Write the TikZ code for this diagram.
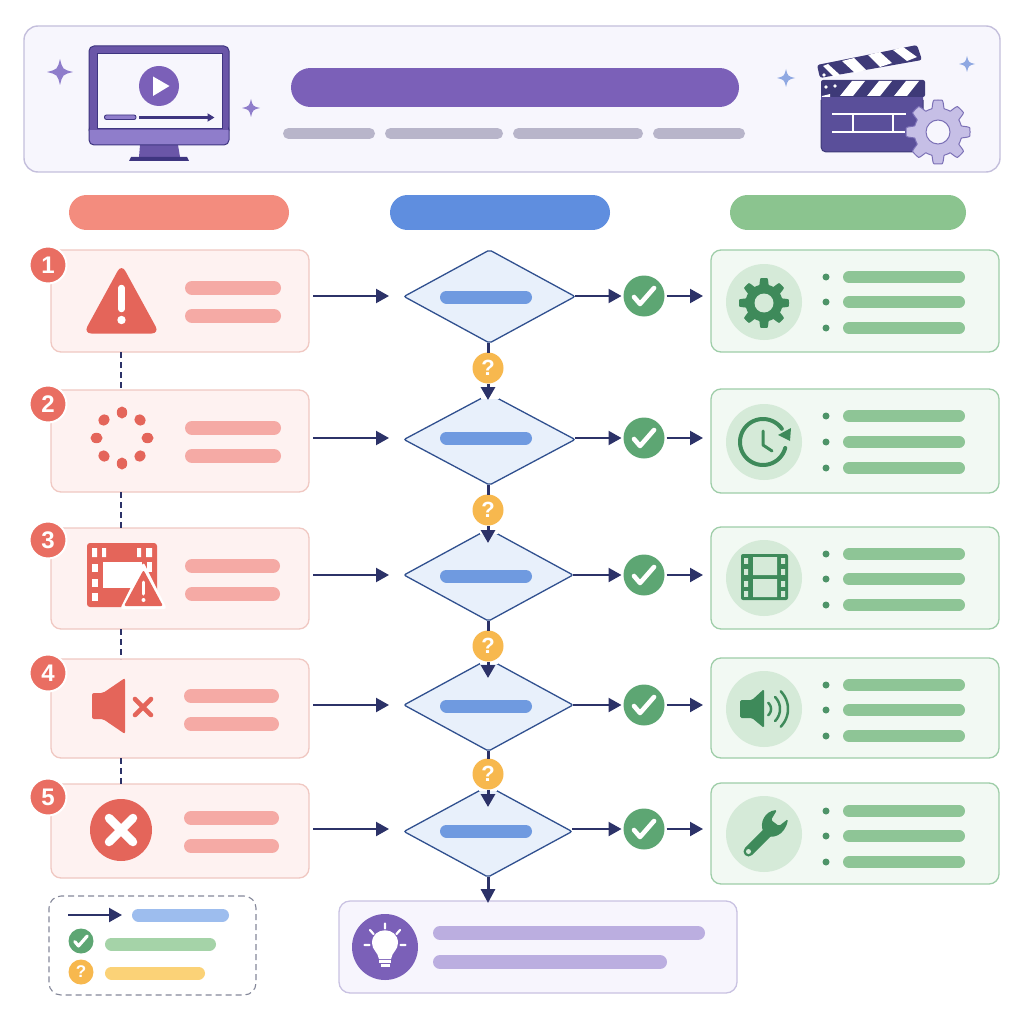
\documentclass[tikz,border=0pt]{standalone}
\usepackage{fontspec}
\setmainfont{Liberation Sans}
\usetikzlibrary{arrows.meta,shapes.geometric}
\definecolor{navy}{HTML}{2C3268}
\definecolor{hdrfill}{HTML}{F7F6FD}
\definecolor{hdrline}{HTML}{C4BFDC}
\definecolor{purple}{HTML}{7B60B8}
\definecolor{purplelt}{HTML}{8F7DCB}
\definecolor{purpledk}{HTML}{3E3580}
\definecolor{frameclr}{HTML}{6A56A8}
\definecolor{greyp}{HTML}{B8B5CA}
\definecolor{clapbody}{HTML}{5A4F9A}
\definecolor{clapdark}{HTML}{3E3A78}
\definecolor{gearfill}{HTML}{C6BFE6}
\definecolor{gearline}{HTML}{7B70B6}
\definecolor{sparkb}{HTML}{8FA8E2}
\definecolor{redhead}{HTML}{F38C7E}
\definecolor{bluehead}{HTML}{5F8EDF}
\definecolor{greenhead}{HTML}{8BC48F}
\definecolor{redfill}{HTML}{FEF2F1}
\definecolor{redline}{HTML}{F0C8C2}
\definecolor{redicon}{HTML}{E4655A}
\definecolor{redbar}{HTML}{F5AAA5}
\definecolor{badge}{HTML}{E96E62}
\definecolor{diafill}{HTML}{E8F0FB}
\definecolor{dialine}{HTML}{30508F}
\definecolor{diabar}{HTML}{6F9AE0}
\definecolor{okclr}{HTML}{5DA673}
\definecolor{qclr}{HTML}{F7B84E}
\definecolor{greenfill}{HTML}{F2F9F3}
\definecolor{greenline}{HTML}{9ECDA8}
\definecolor{greencirc}{HTML}{D5EAD8}
\definecolor{greenicon}{HTML}{3E8A5A}
\definecolor{greendot}{HTML}{4E9468}
\definecolor{greenbar}{HTML}{8EC596}
\definecolor{lightpurple}{HTML}{BBAEE0}
\definecolor{tipfill}{HTML}{F7F5FD}
\definecolor{tipline}{HTML}{C9C2E2}
\definecolor{legline}{HTML}{85889A}
\definecolor{legblue}{HTML}{9DBDEE}
\definecolor{leggreen}{HTML}{A5D3A8}
\definecolor{legyellow}{HTML}{FBD277}

\tikzset{
  boxbase/.style={rectangle,inner sep=0pt,outer sep=0pt},
  redcard/.style={boxbase,rounded corners=10pt,fill=redfill,draw=redline,line width=1.3pt},
  greencard/.style={boxbase,rounded corners=10pt,fill=greenfill,draw=greenline,line width=1.3pt},
  tipcard/.style={boxbase,rounded corners=11pt,fill=tipfill,draw=tipline,line width=1.3pt},
  hdrcard/.style={boxbase,rounded corners=14pt,fill=hdrfill,draw=hdrline,line width=1.4pt},
  legcard/.style={boxbase,rounded corners=12pt,fill=white,draw=legline,line width=1.1pt,dash pattern=on 6pt off 4pt},
  dia/.style={diamond,aspect=1.84,inner sep=0pt,outer sep=0pt,fill=diafill,draw=dialine,line width=1.3pt,rounded corners=2pt},
  numbadge/.style={circle,inner sep=0pt,outer sep=0pt,minimum size=37pt,fill=badge,draw=white,line width=2pt,text=white,font=\fontsize{24}{24}\selectfont\bfseries},
  okdot/.style={circle,inner sep=0pt,outer sep=0pt,fill=okclr},
  qdot/.style={circle,inner sep=0pt,outer sep=0pt,fill=qclr,text=white,font=\bfseries},
  conn/.style={draw=navy,line width=2.2pt,-{Triangle[length=13pt,width=14pt]}},
  stub/.style={draw=navy,line width=3pt},
  dashconn/.style={draw=navy,line width=1.6pt,dash pattern=on 6pt off 4pt},
  tick/.style={draw=white,line width=#1,line cap=round,line join=round},
}
\newcommand{\pillbar}[5]{\draw[line width=#4pt,line cap=round,#5] ({#1+#4/2},#3) -- ({#2-#4/2},#3);}
\newcommand{\sparkle}[4]{\fill[#4] (#1,{#2-#3}) .. controls ({#1+.2*#3},{#2-.2*#3}) .. ({#1+#3},#2) .. controls ({#1+.2*#3},{#2+.2*#3}) .. (#1,{#2+#3}) .. controls ({#1-.2*#3},{#2+.2*#3}) .. ({#1-#3},#2) .. controls ({#1-.2*#3},{#2-.2*#3}) .. cycle;}
\newcommand{\gearpath}[6]{\path[#6] plot[domain=0:360,samples=241,variable=\t] ({#1+((#3+#4)/2+(#3-#4)/2*max(-1,min(1,2.4*cos(#5*\t))))*cos(\t)},{#2+((#3+#4)/2+(#3-#4)/2*max(-1,min(1,2.4*cos(#5*\t))))*sin(\t)}) -- cycle;}
\newcommand{\checkmk}[4]{\draw[tick=#4] ({#1-#3*10},{#2+#3*1}) -- ({#1-#3*4},{#2+#3*8}) -- ({#1+#3*10},{#2-#3*8});}

\begin{document}
\begin{tikzpicture}[x=1pt,y=-1pt]
\useasboundingbox (0,0) rectangle (1024,1024);
\fill[white] (0,0) rectangle (1024,1024);

% header
\node[hdrcard,minimum width=976pt,minimum height=146pt] (hdr) at (512,99) {};
\pillbar{291}{739}{87.5}{39}{purple}
\pillbar{283}{375}{133.5}{11}{greyp}
\pillbar{385}{503}{133.5}{11}{greyp}
\pillbar{513}{643}{133.5}{11}{greyp}
\pillbar{653}{745}{133.5}{11}{greyp}
\sparkle{60}{72}{13}{purplelt}
\sparkle{251}{108}{9}{purplelt}
\sparkle{786}{78}{9}{sparkb}
\sparkle{967}{64}{8}{sparkb}

% monitor
\fill[frameclr] (140,145) -- (178,145) -- (180,157) -- (139,157) -- cycle;
\fill[purpledk] (129,161) -- (131,157) -- (187,157) -- (189,161) -- cycle;
\draw[fill=frameclr,draw=purpledk,line width=1pt,rounded corners=5pt] (89,46) rectangle (229,135);
\draw[fill=purplelt,draw=purpledk,line width=1pt,rounded corners=5pt] (89,125) rectangle (229,145);
\fill[frameclr] (90,122) rectangle (228,130);
\draw[fill=hdrfill,draw=purpledk,line width=1pt] (97,54) rectangle (222,129);
\fill[purple] (159,86) circle (20);
\fill[white] (153,76.5) -- (169.5,86) -- (153,96) -- cycle;
\draw[fill=purplelt,draw=purpledk,line width=.9pt,rounded corners=2pt] (104.5,115) rectangle (136,119.5);
\draw[draw=purpledk,line width=2.2pt,-{Triangle[length=7pt,width=8pt]}] (139,117.5) -- (214.5,117.5);

% clapper
\fill[clapbody,rounded corners=5pt] (821,92) rectangle (923,152);
\draw[clapdark,line width=1pt,rounded corners=5pt] (821,100) -- (821,152) -- (923,152) -- (923,100);
\fill[clapdark,rounded corners=2pt] (821,80) rectangle (925,97);
\foreach \s in {840,867,894}{\fill[white] (\s,96) -- ({\s+13},96) -- ({\s+25},81) -- ({\s+12},81) -- cycle;}
\fill[white] (826,87) circle (1.8) (835,86) circle (1.8);
\fill[white] (822,96) -- (830,94) -- (830,97) -- (822,97) -- cycle;
\fill[clapdark,rounded corners=2.5pt] (817,65) -- (917,45) -- (922,60) -- (820,78) -- cycle;
\fill[white] (823,66) -- (828,64) -- (840,75) -- (834,77) -- cycle;
\fill[white] (842,61) -- (854,58) -- (866,70) -- (855,73) -- cycle;
\fill[white] (868,55) -- (880,52) -- (892,63) -- (880,67) -- cycle;
\fill[white] (893,50) -- (903,47) -- (917,57) -- (907,61) -- cycle;
\fill[white] (824,75) circle (1.8);
\draw[white,line width=1.4pt] (832,114) -- (906,114) (832,132) -- (905,132) (853,114) -- (853,132) (893,114) -- (893,132);
\gearpath{938}{132}{32}{24}{8}{fill=gearfill,draw=gearline,line width=1pt,line join=round}
\draw[fill=hdrfill,draw=gearline,line width=1pt] (938,132) circle (12);

% column headers
\pillbar{69}{289}{212.5}{35}{redhead}
\pillbar{390}{610}{212.5}{35}{bluehead}
\pillbar{730}{966}{212.5}{35}{greenhead}

% red cards
\node[redcard,minimum width=258pt,minimum height=102pt] (r1) at (180,301) {};
\node[redcard,minimum width=258pt,minimum height=102pt] (r2) at (180,441) {};
\node[redcard,minimum width=258pt,minimum height=101pt] (r3) at (180,578.5) {};
\node[redcard,minimum width=258pt,minimum height=99pt] (r4) at (180,708.5) {};
\node[redcard,minimum width=258pt,minimum height=94pt] (r5) at (180,831) {};
\foreach \a/\b/\cy in {185/281/288,185/281/316,185/281/428,185/281/456,185/280/566,185/280/594,184/279/696,184/279/724,184/279/818,184/279/846}{\pillbar{\a}{\b}{\cy}{14}{redbar}}
\coordinate (ga) at (121,352); \coordinate (gb) at (121,390);
\draw[dashconn] (ga) -- (gb);
\coordinate (gc) at (121,492); \coordinate (gd) at (121,528);
\draw[dashconn] (gc) -- (gd);
\coordinate (ge) at (121,629); \coordinate (gf) at (121,659);
\draw[dashconn] (ge) -- (gf);
\coordinate (gg) at (121,758); \coordinate (gh) at (121,784);
\draw[dashconn] (gg) -- (gh);

\node[numbadge] (n1) at (48,265) {1};
\node[numbadge] (n2) at (48,404) {2};
\node[numbadge] (n3) at (48,540) {3};
\node[numbadge] (n4) at (48,673) {4};
\node[numbadge] (n5) at (48,797) {5};

% red icons
\fill[redicon,rounded corners=8pt] (121.5,264) -- (159.5,333.5) -- (83.5,333.5) -- cycle;
\draw[white,line width=6.5pt,line cap=round] (121.5,288) -- (121.5,309);
\fill[white] (121.5,320) circle (4.2);
\foreach \ang in {0,45,90,135,180,225,270,315}{\fill[redicon,shift={({122+25.5*cos(\ang)},{438+25.5*sin(\ang)})},rotate=\ang] (0,0) ellipse (6 and 5.2);}
\fill[redicon,rounded corners=3pt] (87,543) rectangle (157,607);
\fill[white] (103,562) rectangle (142,588);
\foreach \yy in {568,583,597}{\fill[white] (92,{\yy-4}) rectangle (98,{\yy+4});}
\fill[white] (92,548) rectangle (97,557) (102,548) rectangle (106,557) (137,548) rectangle (141,557) (146,548) rectangle (152,557);
\fill[white] (147,562) rectangle (152,572);
\fill[white,rounded corners=3pt] (143.5,562) -- (167,609) -- (120,609) -- cycle;
\fill[redicon,rounded corners=2pt] (143.5,570) -- (163,606) -- (124,606) -- cycle;
\draw[white,line width=3pt,line cap=round] (143.5,582) -- (143.5,594);
\fill[white] (143.5,600) circle (2);
\fill[redicon,rounded corners=2pt] (92,693) -- (103,693) -- (125,678) -- (125,734) -- (103,719) -- (92,719) -- cycle;
\draw[redicon,line width=4.6pt,line cap=round] (135,699) -- (151,715) (151,699) -- (135,715);
\fill[redicon] (121,830) circle (31);
\draw[white,line width=8.5pt,line cap=round] (109,818) -- (133,842) (133,818) -- (109,842);

% diamonds
\node[dia,minimum width=171pt,minimum height=93pt] (d1) at (489.5,296.5) {};
\node[dia,minimum width=171pt,minimum height=91pt] (d2) at (489.5,439.5) {};
\node[dia,minimum width=169pt,minimum height=92pt] (d3) at (488.5,575) {};
\node[dia,minimum width=169pt,minimum height=92pt] (d4) at (488.5,705) {};
\node[dia,minimum width=168pt,minimum height=91pt] (d5) at (488,831.5) {};
\foreach \cy in {297,438,576,706,831}{\pillbar{440}{532}{\cy}{13}{diabar}}
\foreach \n in {d2,d3,d4,d5}{\fill[white] ([xshift=-9pt,yshift=1pt]\n.north) -- ([xshift=9pt,yshift=1pt]\n.north) -- ([xshift=9pt,yshift=-5pt]\n.north) -- ([xshift=-9pt,yshift=-5pt]\n.north) -- cycle;}

% checks and question marks
\foreach \i/\cy in {1/296,2/438,3/575,4/705,5/829}{
  \node[okdot,minimum size=41pt] (c\i) at (644,\cy) {};
  \checkmk{644}{\cy}{1}{4.6pt}
}
\node[qdot,minimum size=31pt,font=\fontsize{22}{22}\selectfont\bfseries] (q1) at (488,368) {?};
\node[qdot,minimum size=31pt,font=\fontsize{22}{22}\selectfont\bfseries] (q2) at (488,510) {?};
\node[qdot,minimum size=31pt,font=\fontsize{22}{22}\selectfont\bfseries] (q3) at (488,646) {?};
\node[qdot,minimum size=31pt,font=\fontsize{22}{22}\selectfont\bfseries] (q4) at (488,774) {?};

% green cards
\node[greencard,minimum width=288pt,minimum height=102pt] (g1) at (855,301) {};
\node[greencard,minimum width=288pt,minimum height=104pt] (g2) at (855,441) {};
\node[greencard,minimum width=288pt,minimum height=102pt] (g3) at (855,578) {};
\node[greencard,minimum width=288pt,minimum height=100pt] (g4) at (855,708) {};
\node[greencard,minimum width=288pt,minimum height=101pt] (g5) at (855,833.5) {};
\foreach \cy in {302,442,578,709,834}{\fill[greencirc] (764,\cy) circle (38);}
\foreach \cy in {277,302,328,416,442,468,554,579,605,685,710,736,811,836,862}{
  \fill[greendot] (826,\cy) circle (3.5);
  \pillbar{843}{965}{\cy}{12}{greenbar}
}
% green icons
\gearpath{764}{303}{25}{18.5}{8}{fill=greenicon}
\fill[greencirc] (764,303) circle (9.5);
\draw[greenicon,line width=4pt,line cap=round] plot[domain=15:325,samples=60,variable=\t] ({763+23*cos(\t)},{442+23*sin(\t)});
\fill[greenicon] (778,435) -- (791,428) -- (790,441) -- cycle;
\draw[greenicon,line width=3pt,line cap=round,line join=round] (763,431) -- (763,445) -- (772,451);
\fill[greenicon,rounded corners=2pt] (741,554) rectangle (788,600);
\fill[greencirc] (753,557) rectangle (777,575) (753,579) rectangle (777,597);
\foreach \yy in {561,572,584,594}{\fill[greencirc] (744,{\yy-2.8}) rectangle (748,{\yy+2.8}) (781,{\yy-2.8}) rectangle (785,{\yy+2.8});}
\fill[greenicon,rounded corners=1.5pt] (740,700) -- (752,700) -- (764,689) -- (764,728) -- (752,718) -- (740,718) -- cycle;
\draw[greenicon,line width=2.5pt,line cap=round] plot[domain=-50:50,samples=20,variable=\t] ({763+8*cos(\t)},{709+8*sin(\t)});
\draw[greenicon,line width=2.5pt,line cap=round] plot[domain=-45:45,samples=20,variable=\t] ({763+17*cos(\t)},{709+17*sin(\t)});
\draw[greenicon,line width=2.5pt,line cap=round] plot[domain=-45:45,samples=20,variable=\t] ({763+25*cos(\t)},{709+25*sin(\t)});
\draw[greenicon,line width=10pt,line cap=round] (748.5,851.5) -- (769,831);
\fill[greenicon,rounded corners=1.5pt] (777,810) .. controls (765,811) and (759,823) .. (764,833) .. controls (771,840) and (785,836) .. (788,819) -- (779,826) -- (771,820) -- cycle;
\fill[greencirc] (748.5,851.5) circle (2.5);

% legend
\node[legcard,minimum width=207pt,minimum height=99pt] (leg) at (152.5,945.5) {};
\coordinate (la) at (68,915); \coordinate (lb) at (122,915);
\draw[conn] (la) -- (lb);
\pillbar{132}{229}{915}{13}{legblue}
\node[okdot,minimum size=25pt] (lc) at (81,941) {};
\checkmk{81}{941}{.62}{3.2pt}
\pillbar{105}{216}{944}{13}{leggreen}
\node[qdot,minimum size=25pt,font=\fontsize{17}{17}\selectfont\bfseries] (lq) at (81,972) {?};
\pillbar{105}{205}{973}{13}{legyellow}

% tip box
\node[tipcard,minimum width=398pt,minimum height=92pt] (tip) at (538,947) {};
\pillbar{433}{705}{933}{14}{lightpurple}
\pillbar{433}{667}{962}{14}{lightpurple}
\node[circle,inner sep=0pt,outer sep=0pt,minimum size=66pt,fill=purple] (bulb) at (385,947) {};
\fill[white] (379,959) .. controls (378,952) and (372,950) .. (372,943) .. controls (372,926) and (398,926) .. (398,943) .. controls (398,950) and (392,952) .. (391,959) -- cycle;
\draw[white,line width=2.2pt] (379,961.5) -- (391,961.5);
\draw[white,line width=2.2pt] (380.5,965.5) -- (389.5,965.5);
\draw[white,line width=2.2pt,line cap=round] (385,923.5) -- (385,928.5) (370,930) -- (373.5,934) (400,930) -- (396.5,934) (364.5,945) -- (369.5,945) (400.5,945) -- (405.5,945);

% connectors
\foreach \i in {1,...,5}{
  \draw[conn,shorten <=4pt,shorten >=15pt] (r\i.east |- c\i) -- (d\i.west |- c\i);
  \draw[conn,shorten >=2pt] (d\i.east |- c\i) -- (c\i.west);
  \draw[conn,shorten <=2pt,shorten >=8pt] (c\i.east) -- (g\i.west |- c\i);
}
\coordinate (t2) at (488,400);
\coordinate (t3) at (488,543);
\coordinate (t4) at (488,678);
\coordinate (t5) at (488,807);
\foreach \a/\b in {1/2,2/3,3/4,4/5}{
  \draw[stub] (q\a.north |- d\a.south) -- (q\a.north);
  \draw[stub,-{Triangle[length=13pt,width=14pt]}] (q\a.south) -- (t\b);
}
\draw[stub,shorten >=-2pt,-{Triangle[length=14pt,width=14pt]}] (d5.south) -- (d5.south |- tip.north);
\end{tikzpicture}
\end{document}
